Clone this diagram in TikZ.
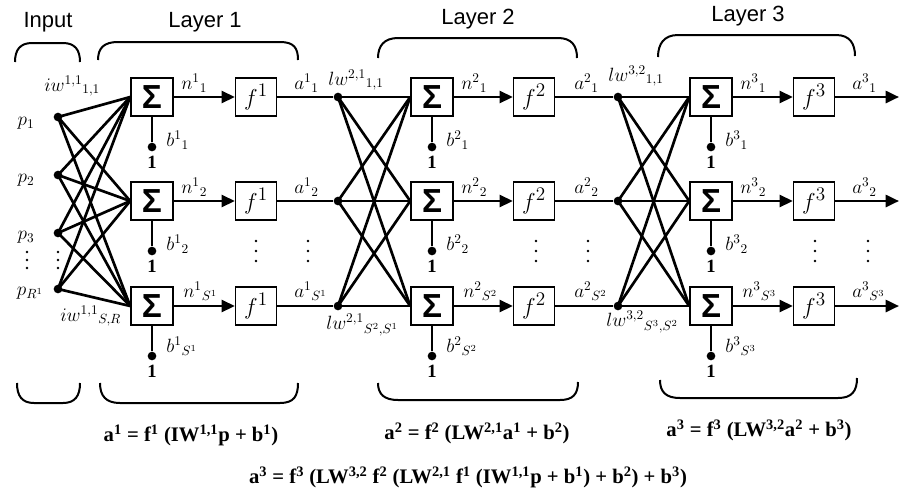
\documentclass[tikz,border=0pt]{standalone}
\usepackage{fontspec}
\setmainfont{Liberation Serif}
\newfontfamily\lsans{Liberation Sans}
\usetikzlibrary{arrows.meta}
\begin{document}
\begin{tikzpicture}[x=0.75pt,y=-0.75pt,
  conn/.style={line width=2pt},
  sig/.style={draw,line width=1.2pt,fill=white,minimum width=31.5pt,minimum height=28.5pt,inner sep=0pt,font=\lsans\bfseries\fontsize{25}{25}\selectfont},
  fbx/.style={draw,line width=1.2pt,fill=white,minimum width=30.5pt,minimum height=28.5pt,inner sep=0pt,font=\fontsize{19}{19}\selectfont},
  dot/.style={circle,fill,inner sep=0pt,minimum size=6.5pt},
  lab/.style={font=\fontsize{14.5}{14.5}\selectfont,inner sep=0pt},
  ttl/.style={font=\lsans\fontsize{16.5}{16.5}\selectfont,inner sep=0pt},
  eq/.style={font=\bfseries\fontsize{15.5}{15.5}\selectfont,inner sep=0pt},
  brace/.style={line width=1.5pt},
  arr/.style={conn,-{Triangle[length=10pt,width=9pt]}}
]
\useasboundingbox (0,0) rectangle (903,490);

% titles
\node[ttl] (tin) at (48,22) {Input};
\node[ttl] (tl1) at (205,22) {Layer 1};
\node[ttl] (tl2) at (478,19) {Layer 2};
\node[ttl] (tl3) at (748,16) {Layer 3};

% top braces
\draw[brace] (15,62) .. controls (15,50) and (20,43) .. (32,43) -- (63,43) .. controls (75,43) and (80,50) .. (80,62);
\draw[brace] (98,60) .. controls (98,48) and (104,42) .. (118,42) -- (280,42) .. controls (294,42) and (298,48) .. (298,60);
\draw[brace] (378,58) .. controls (378,46) and (384,38) .. (398,38) -- (558,38) .. controls (572,38) and (577,46) .. (577,58);
\draw[brace] (658,57) .. controls (658,44) and (664,35) .. (678,35) -- (836,35) .. controls (850,35) and (855,44) .. (855,56);
% bottom braces
\draw[brace] (17,383) .. controls (17,396) and (22,403) .. (34,403) -- (63,403) .. controls (75,403) and (80,396) .. (80,383);
\draw[brace] (100,383) .. controls (100,396) and (106,403) .. (120,403) -- (280,403) .. controls (294,403) and (298,396) .. (298,383);
\draw[brace] (378,383) .. controls (378,394) and (384,400) .. (398,400) -- (560,400) .. controls (573,400) and (578,394) .. (578,382);
\draw[brace] (660,380) .. controls (660,392) and (666,398) .. (680,398) -- (838,398) .. controls (852,398) and (857,391) .. (857,378);

% inputs
\node[dot] (p1) at (58,117) {};
\node[dot] (p2) at (58,175) {};
\node[dot] (p3) at (58,233) {};
\node[dot] (pR) at (58,289) {};
\node[lab] (lp1) at (26,123) {$p_1$};
\node[lab] (lp2) at (26,180) {$p_2$};
\node[lab] (lp3) at (26,237) {$p_3$};
\node[lab] (lpR) at (30,293) {$p_{R^1}$};
\foreach \yy in {252,260,268} {\fill (27,\yy) circle (1.1pt); \fill (58,\yy) circle (1.1pt);}

% layer nodes
\foreach \L/\sx/\fx in {1/152/256,2/432/534,3/711/814}{
  \foreach \r/\y in {1/97,2/201,3/306}{
    \node[sig] (s\L\r) at (\sx,\y) {Σ};
    \node[fbx] (f\L\r) at (\fx,\y) {$f^{\L}$};
    \node[dot] (b\L\r) at (\sx,\y+50) {};
    \node[font=\bfseries\fontsize{14}{14}\selectfont,inner sep=0pt] (one\L\r) at (\sx,\y+65) {1};
    \draw[conn] (s\L\r.south) -- (b\L\r);
    \draw[arr] (s\L\r.east) -- (f\L\r.west);
  }
}
% dots feeding layers 2 and 3
\foreach \r/\y in {1/97,2/201,3/306}{
  \node[dot] (d2\r) at (338,\y) {};
  \node[dot] (d3\r) at (618,\y) {};
  \coordinate (o\r) at (899,\y);
  \draw[conn] (f1\r.east) -- (d2\r);
  \draw[conn] (f2\r.east) -- (d3\r);
  \draw[arr] (f3\r.east) -- (o\r);
}
% full connections
\foreach \i in {p1,p2,p3,pR}{\foreach \r in {1,2,3}{\draw[conn] (\i.center) -- (s1\r.west);}}
\foreach \i in {1,2,3}{\foreach \r in {1,2,3}{
  \draw[conn] (d2\i.center) -- (s2\r.west);
  \draw[conn] (d3\i.center) -- (s3\r.west);}}

% vertical dots between rows
\foreach \xx in {256,308,536,588,815,868}{\foreach \yy in {241,251,261}{\fill (\xx,\yy) circle (1.1pt);}}

% weight labels
\node[lab,anchor=west] (w11) at (44,86) {$iw^{1,1}{}_{1,1}$};
\node[lab,anchor=west] (w1s) at (60,316) {$iw^{1,1}{}_{S,R}$};
\node[lab,anchor=west] (w21) at (328,80) {$lw^{2,1}{}_{1,1}$};
\node[lab,anchor=west] (w2s) at (326,325) {$lw^{2,1}{}_{S^2,S^1}$};
\node[lab,anchor=west] (w31) at (608,76) {$lw^{3,2}{}_{1,1}$};
\node[lab,anchor=west] (w3s) at (606,322) {$lw^{3,2}{}_{S^3,S^2}$};

% n, a, b labels
\foreach \L/\sx/\fx/\ax in {1/152/256/294,2/432/534/574,3/711/814/852}{
  \node[lab,anchor=west] (n\L1) at (\sx+29,83) {$n^{\L}{}_{1}$};
  \node[lab,anchor=west] (n\L2) at (\sx+29,187) {$n^{\L}{}_{2}$};
  \node[lab,anchor=west] (n\L3) at (\sx+31,291) {$n^{\L}{}_{S^{\L}}$};
  \node[lab,anchor=west] (a\L1) at (\ax,83) {$a^{\L}{}_{1}$};
  \node[lab,anchor=west] (a\L2) at (\ax,187) {$a^{\L}{}_{2}$};
  \node[lab,anchor=west] (a\L3) at (\ax,291) {$a^{\L}{}_{S^{\L}}$};
  \node[lab,anchor=west] (bl\L1) at (\sx+14,140) {$b^{\L}{}_{1}$};
  \node[lab,anchor=west] (bl\L2) at (\sx+14,244) {$b^{\L}{}_{2}$};
  \node[lab,anchor=west] (bl\L3) at (\sx+14,346) {$b^{\L}{}_{S^{\L}}$};
}

% equations
\node[eq] (eq1) at (191,435) {a\textsuperscript{1} = f\textsuperscript{1} (IW\textsuperscript{1,1}p + b\textsuperscript{1})};
\node[eq] (eq2) at (477,433) {a\textsuperscript{2} = f\textsuperscript{2} (LW\textsuperscript{2,1}a\textsuperscript{1} + b\textsuperscript{2})};
\node[eq] (eq3) at (759,430) {a\textsuperscript{3} = f\textsuperscript{3} (LW\textsuperscript{3,2}a\textsuperscript{2} + b\textsuperscript{3})};
\node[eq] (eq4) at (468,477) {a\textsuperscript{3} = f\textsuperscript{3} (LW\textsuperscript{3,2} f\textsuperscript{2} (LW\textsuperscript{2,1} f\textsuperscript{1} (IW\textsuperscript{1,1}p + b\textsuperscript{1}) + b\textsuperscript{2}) + b\textsuperscript{3})};
\end{tikzpicture}
\end{document}
